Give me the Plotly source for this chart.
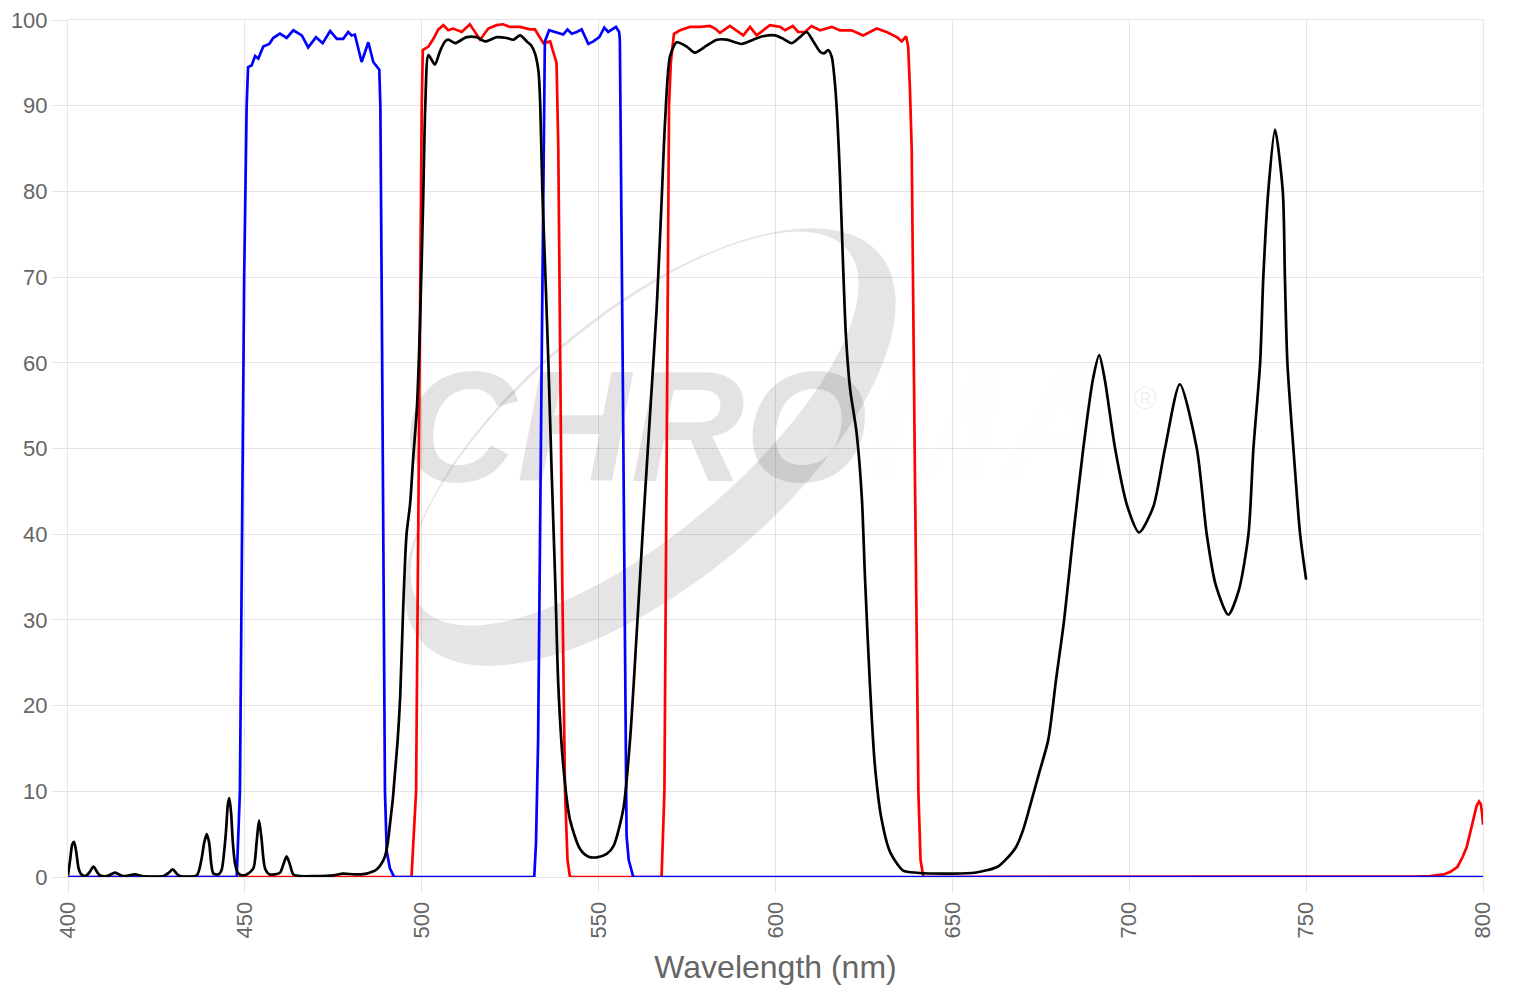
import numpy as np
import plotly.graph_objects as go

# ---------------- data ----------------
blue_nm = [400, 447.7, 448.6, 449.8, 450.5, 450.9, 451.9, 452.9, 453.8, 455.2, 456.9, 458.0,
           459.9, 461.8, 463.7, 466.1, 467.9, 470.1, 472.0, 474.1, 476.0, 477.8, 479.2,
           480.2, 481.1, 483.0, 484.9, 486.3, 488.0, 488.3, 488.7, 489.6, 490.1, 491.0,
           492.2, 531.8, 532.3, 532.9, 533.9, 534.8, 536.0, 538.1, 540.0, 541.2, 542.4,
           543.8, 545.2, 547.1, 548.5, 550.2, 551.6, 552.7, 554.9, 555.8, 556.0, 556.8,
           557.5, 557.9, 558.5, 559.8, 800]
blue_t = [0, 0, 10, 70, 90, 94.5, 94.7, 95.8, 95.5, 96.9, 97.2, 97.9,
          98.4, 97.9, 98.8, 98.2, 96.8, 98.0, 97.3, 98.7, 97.8, 97.8, 98.6,
          98.2, 98.3, 95.1, 97.4, 95.1, 94.2, 90, 67, 10, 3, 1,
          0, 0, 4, 16, 60, 97.5, 98.8, 98.5, 98.3, 98.9, 98.4,
          98.6, 98.9, 97.2, 97.5, 98.0, 99.1, 98.6, 99.2, 98.6, 97.7, 60,
          22.4, 4.8, 2, 0, 0]

red_nm = [400, 497.1, 498.4, 499.3, 500.0, 500.3, 501.9, 503.3, 504.7, 506.1, 507.5, 508.9,
          511.3, 513.6, 516.5, 518.8, 521.2, 523.0, 524.9, 527.8, 530.6, 532.0, 534.4,
          536.3, 537.4, 538.1, 538.6, 539.1, 539.7, 540.5, 541.2, 541.9,
          567.8, 568.6, 569.3, 569.9, 570.4, 571.3, 573.0, 575.8, 578.7, 581.5, 582.9,
          584.3, 587.1, 589.5, 590.9, 592.8, 594.7, 598.4, 601.3, 602.7, 604.9, 606.4,
          608.3, 610.2, 612.6, 615.9, 618.2, 621.5, 624.8, 628.6, 631.4, 634.3, 635.7,
          636.9, 637.5, 638.0, 638.5, 639.4, 640.4, 641.0, 641.8,
          781.0, 785.0, 788.9, 790.8, 792.8, 794.2, 795.4, 796.4, 797.3, 798.2, 798.9,
          799.4, 799.8, 800]
red_t = [0, 0, 10, 60, 90, 96.5, 96.9, 97.8, 98.9, 99.4, 98.8, 99.0,
         98.6, 99.5, 97.7, 99.0, 99.4, 99.5, 99.2, 99.2, 98.9, 98.9, 97.3,
         97.5, 95.9, 95.0, 85, 60, 35, 10, 2, 0,
         0, 10, 60, 90, 95, 98.4, 98.8, 99.2, 99.2, 99.3, 99.0,
         98.5, 99.3, 98.6, 98.2, 99.2, 98.2, 99.4, 99.2, 98.8, 99.3, 98.6,
         98.6, 99.3, 98.8, 99.2, 98.8, 98.8, 98.2, 99.0, 98.6, 98.0, 97.5,
         98.1, 96.9, 92, 85, 47.5, 9.8, 2, 0,
         0.05, 0.1, 0.3, 0.6, 1.2, 2.3, 3.5, 5.2, 7.0, 8.3, 8.8,
         8.5, 7.2, 6.1]

black_nm = [400.0, 400.6, 401.2, 401.7, 402.3, 403.0, 403.6, 404.8, 406.0, 407.2, 408.2, 409.0,
            411.0, 413.3, 415.5, 418.9, 421.0, 427.0, 428.5, 429.6, 430.7, 431.7, 436.4,
            437.7, 438.5, 439.2, 439.9, 440.5, 441.1, 442.5, 443.4, 444.6, 445.2, 445.6,
            446.1, 446.6, 447.2, 448.0, 449.1, 450.5, 452.4, 453.3, 454.0, 454.7, 455.7,
            457.0, 459.9, 460.9, 461.8, 462.7, 463.7, 465.6, 470.0, 475.0, 477.8, 481.0,
            484.4, 486.0, 487.3, 488.5, 489.6, 490.4, 491.0, 491.8, 492.4, 493.2, 493.9,
            494.8, 495.7, 496.7, 497.6, 498.6, 499.5, 500.4, 501.0, 501.9, 503.7, 505.2,
            506.6, 507.5, 509.4, 512.7, 515.5, 517.9, 521.2, 524.0, 525.9, 527.8, 529.7,
            531.0, 532.0, 533.0, 533.5, 534.1, 534.8, 535.8, 536.7, 537.7, 538.6, 540.0,
            541.9, 544.7, 547.0, 549.5, 552.3, 554.2, 557.0, 558.9, 560.8, 562.6, 564.5,
            566.4, 567.8, 568.8, 570.2, 572.1, 574.9, 577.2, 580.5, 583.4, 586.2, 590.4,
            593.7, 596.5, 599.9, 601.8, 604.6, 606.9, 608.8, 610.7, 612.6, 613.7, 614.9,
            615.9, 616.8, 617.5, 618.2, 619.0, 619.9, 621.1, 622.9, 624.4, 625.3, 626.7,
            628.1, 630.0, 632.4, 636.1, 640.0, 649.8, 656.3, 662.8, 665.5, 668.0, 670.0,
            671.9, 674.5, 677.1, 679.3, 681.6, 684.2, 687.0, 689.7, 691.5, 693.1, 696.0,
            699.5, 702.8, 706.8, 710.1, 714.3, 719.1, 721.9, 724.5, 728.0, 731.0, 733.7,
            735.1, 737.0, 737.9, 739.3, 741.2, 743.4, 744.0, 744.7, 746.4, 748.3, 750.0]
black_t = [0.2, 2.0, 3.8, 4.1, 3.0, 1.0, 0.4, 0.1, 0.5, 1.2, 0.6, 0.2,
           0.1, 0.5, 0.1, 0.3, 0.1, 0.1, 0.5, 0.9, 0.4, 0.1, 0.2,
           2.0, 4.0, 5.0, 4.0, 1.5, 0.4, 0.3, 0.8, 5.0, 8.5, 9.2,
           7.5, 4.0, 1.6, 0.5, 0.2, 0.3, 1.0, 4.0, 6.6, 4.5, 1.0,
           0.3, 0.5, 1.5, 2.4, 1.5, 0.3, 0.1, 0.1, 0.2, 0.4, 0.3,
           0.4, 0.6, 0.9, 1.5, 2.4, 4.0, 6.1, 9.0, 12.0, 16.0, 21.0,
           32.0, 40.0, 43.5, 49.0, 54.5, 64.4, 79.0, 90.0, 95.9, 94.8, 96.4,
           97.5, 97.7, 97.3, 98.0, 98.0, 97.5, 98.0, 97.9, 97.7, 98.2, 97.5,
           97.0, 96.1, 94.0, 90.0, 80.0, 72.0, 60.0, 47.5, 35.0, 22.4, 13.0,
           6.7, 3.3, 2.4, 2.3, 2.7, 3.6, 8.0, 16.1, 28.7, 41.2, 53.8,
           66.3, 78.8, 88.3, 95.8, 97.4, 96.9, 96.2, 97.0, 97.7, 97.7, 97.2,
           97.7, 98.1, 98.2, 97.9, 97.3, 98.0, 98.6, 97.5, 96.3, 96.1, 96.5,
           95.7, 92.6, 88.3, 82.0, 72.6, 63.2, 56.9, 51.9, 44.3, 34.9, 22.4,
           13.0, 6.7, 2.9, 0.75, 0.5, 0.4, 0.5, 1.2, 2.2, 3.5, 5.5,
           8.2, 12.1, 16.0, 23.0, 30.0, 40.0, 50.0, 58.0, 60.9, 58.0, 50.0,
           43.2, 40.2, 43.2, 50.0, 57.5, 50.0, 40.0, 34.0, 30.6, 33.5, 40.0,
           50.0, 60.0, 70.0, 80.0, 87.2, 80.0, 70.0, 60.0, 50.0, 40.0, 34.7]

x_ticks = [400, 450, 500, 550, 600, 650, 700, 750, 800]
y_ticks = [0, 10, 20, 30, 40, 50, 60, 70, 80, 90, 100]

# ---------------- layout constants ----------------
W, H = 1520, 1000
ML, MR, MT, MB = 68, 37, 20, 123
PW, PH = W - ML - MR, H - MT - MB
FONT = "Liberation Sans, Arial, Helvetica, sans-serif"
GRID = "rgba(0,0,0,0.1)"
TXT = "#666666"
LW = 2.7

fig = go.Figure()

# watermark text (drawn first so the curves sit on top)
fig.add_trace(go.Scatter(
    x=[595.0], y=[50.8], mode="text",
    text=["<b><i>CHRO<span style='color:rgba(0,0,0,0.045)'>MA</span></i></b>"],
    textposition="middle center",
    textfont=dict(family=FONT, size=158, color="rgba(0,0,0,0.11)", weight="bold", style="italic"),
    hoverinfo="skip", showlegend=False))
fig.add_trace(go.Scatter(
    x=[704.5], y=[55.6], mode="text", text=["®"],
    textposition="middle center",
    textfont=dict(family=FONT, size=32, color="rgba(0,0,0,0.07)"),
    hoverinfo="skip", showlegend=False))

fig.add_trace(go.Scatter(x=red_nm, y=red_t, mode="lines",
                         line=dict(color="#ff0000", width=LW), showlegend=False,
                         hoverinfo="skip"))
fig.add_trace(go.Scatter(x=blue_nm, y=blue_t, mode="lines",
                         line=dict(color="#0000ff", width=LW), showlegend=False,
                         hoverinfo="skip"))
fig.add_trace(go.Scatter(x=black_nm, y=black_t, mode="lines",
                         line=dict(color="#000000", width=LW, shape="spline", smoothing=0.7),
                         showlegend=False, hoverinfo="skip"))

# watermark swoosh (crescent) in paper coordinates
def px2paper(px, py):
    return (px - ML) / PW, (H - MB - py) / PH

def ellipse(cx, cy, a, b, phi_deg, reverse=False, n=120):
    phi = np.radians(phi_deg)
    t = np.linspace(0, 2 * np.pi, n, endpoint=False)
    if reverse:
        t = t[::-1]
    xs = cx + a * np.cos(phi) * np.cos(t) - b * np.sin(phi) * np.sin(t)
    ys = cy - (a * np.sin(phi) * np.cos(t) + b * np.cos(phi) * np.sin(t))
    pts = [px2paper(x, y) for x, y in zip(xs, ys)]
    return "M " + " L ".join(f"{p[0]:.5f},{p[1]:.5f}" for p in pts) + " Z"

phi = 40
cx, cy, a, b = 650, 447, 300, 135
d = 24
ux, uy = -np.sin(np.radians(phi)), -np.cos(np.radians(phi))
path = ellipse(cx, cy, a, b, phi) + " " + ellipse(cx + d * ux, cy + d * uy, a - 22, b - d - 3, phi, reverse=True)
fig.add_shape(type="path", path=path, xref="paper", yref="paper",
              fillcolor="rgba(0,0,0,0.1)", line=dict(width=0), layer="below")

fig.update_layout(
    width=W, height=H,
    margin=dict(l=ML, r=MR, t=MT, b=MB, autoexpand=False),
    paper_bgcolor="white", plot_bgcolor="white",
    font=dict(family=FONT, color=TXT),
    showlegend=False,
    xaxis=dict(range=[400, 800], tickvals=x_ticks, ticktext=[str(v) for v in x_ticks],
               tickangle=-90, tickfont=dict(size=22, color=TXT),
               showgrid=True, gridcolor=GRID, gridwidth=1,
               ticks="outside", ticklen=15, tickcolor=GRID, tickwidth=1,
               showline=True, linecolor=GRID, linewidth=1, mirror=True,
               zeroline=False, automargin=False,
               title=dict(text="Wavelength (nm)", font=dict(size=32, color=TXT), standoff=18)),
    yaxis=dict(range=[0, 100], tickvals=y_ticks,
               tickfont=dict(size=22, color=TXT),
               showgrid=True, gridcolor=GRID, gridwidth=1,
               ticks="outside", ticklen=15, tickcolor=GRID, tickwidth=1,
               showline=True, linecolor=GRID, linewidth=1, mirror=True,
               zeroline=False, automargin=False),
)

fig.write_html("out.html")
